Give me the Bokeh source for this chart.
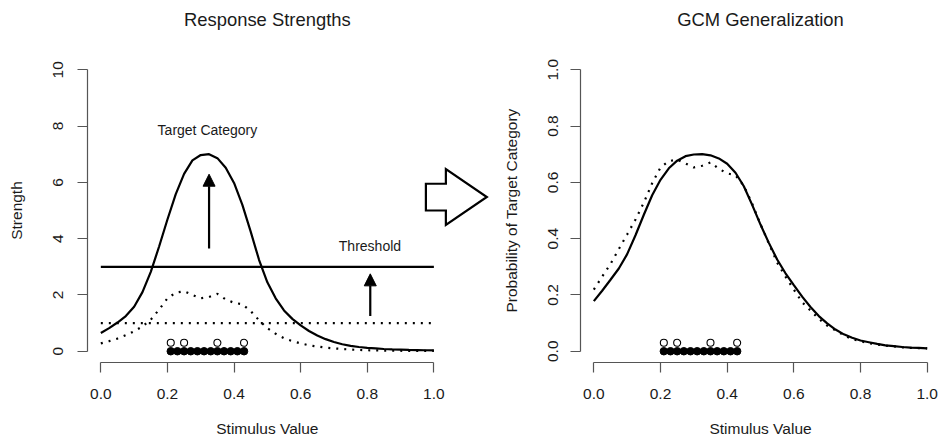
import math
from bokeh.plotting import figure
from bokeh.models import Range1d, FixedTicker, Arrow, NormalHead, PrintfTickFormatter
from bokeh.layouts import row, column
from bokeh.embed import file_html
from bokeh.resources import INLINE
from bokeh.core.properties import value

FONT = "Liberation Sans"

# ---------------- data ----------------
stimulus = [0.000, 0.025, 0.050, 0.075, 0.100, 0.125, 0.150, 0.175, 0.200, 0.225,
            0.250, 0.275, 0.300, 0.325, 0.350, 0.375, 0.400, 0.425, 0.450, 0.475,
            0.500, 0.525, 0.550, 0.575, 0.600, 0.625, 0.650, 0.675, 0.700, 0.725,
            0.750, 0.775, 0.800, 0.825, 0.850, 0.875, 0.900, 0.925, 0.950, 0.975, 1.000]

# left panel: response strengths
target_strength = [0.65, 0.82, 1.02, 1.25, 1.58, 2.10, 2.82, 3.72, 4.68, 5.58,
                   6.30, 6.78, 6.97, 7.00, 6.86, 6.52, 5.98, 5.20, 4.25, 3.25,
                   2.45, 1.88, 1.45, 1.15, 0.92, 0.72, 0.56, 0.43, 0.33, 0.25,
                   0.19, 0.15, 0.12, 0.10, 0.08, 0.065, 0.055, 0.045, 0.04, 0.035, 0.03]
other_strength = [0.28, 0.36, 0.45, 0.57, 0.71, 0.88, 1.12, 1.48, 1.88, 2.08,
                  2.13, 2.00, 1.88, 1.93, 2.04, 1.84, 1.72, 1.67, 1.43, 1.10,
                  0.82, 0.62, 0.46, 0.36, 0.28, 0.21, 0.17, 0.13, 0.10, 0.08,
                  0.06, 0.045, 0.036, 0.03, 0.025, 0.02, 0.017, 0.014, 0.012, 0.011, 0.01]
threshold_high = 3.0
threshold_low = 1.0

# right panel: GCM generalization (probability of target category)
target_prob = [0.178, 0.215, 0.254, 0.294, 0.345, 0.412, 0.485, 0.554, 0.609, 0.650,
               0.677, 0.693, 0.699, 0.700, 0.696, 0.685, 0.666, 0.634, 0.586, 0.520,
               0.450, 0.385, 0.326, 0.277, 0.235, 0.194, 0.157, 0.125, 0.099, 0.077,
               0.060, 0.048, 0.038, 0.032, 0.026, 0.021, 0.018, 0.015, 0.013, 0.012, 0.010]
other_prob = [0.219, 0.265, 0.310, 0.363, 0.415, 0.468, 0.528, 0.597, 0.653, 0.675,
              0.681, 0.667, 0.653, 0.659, 0.671, 0.648, 0.632, 0.625, 0.588, 0.524,
              0.451, 0.383, 0.315, 0.265, 0.219, 0.174, 0.145, 0.115, 0.091, 0.074,
              0.057, 0.043, 0.035, 0.029, 0.024, 0.020, 0.017, 0.014, 0.012, 0.011, 0.010]

# training exemplars (filled) and probe items (open)
exemplars = [0.21, 0.23, 0.25, 0.27, 0.29, 0.31, 0.33, 0.35, 0.37, 0.39, 0.41, 0.43]
probes = [0.21, 0.25, 0.35, 0.43]

x_ticks = [0.0, 0.2, 0.4, 0.6, 0.8, 1.0]
y_ticks_left = [0, 2, 4, 6, 8, 10]
y_ticks_right = [0.0, 0.2, 0.4, 0.6, 0.8, 1.0]

titles = ["Response Strengths", "GCM Generalization"]
x_label = "Stimulus Value"
y_labels = ["Strength", "Probability of Target Category"]

# annotation positions (data units of the left panel)
target_label = (0.32, 7.85)
threshold_label = (0.808, 3.74)
target_arrow = (0.325, 3.65, 6.29)
threshold_arrow = (0.809, 1.25, 2.75)
big_arrow_x = [0.976, 1.036, 1.036, 1.159, 1.036, 1.036, 0.976]
big_arrow_y = [5.95, 5.95, 6.47, 5.48, 4.49, 5.00, 5.00]

AXIS_COLOR = "#555555"
TEXT_COLOR = "#1a1a1a"
LW = 2.2
DOT = "2 6"

# layout geometry (pixels)
TOP_H, MID_H, BOT_H = 40, 367, 30
FRAME_TOP, FRAME_H = 18, 304
W1, W2 = 495, 445
B1, B2 = 87, 85
XR1 = (-0.04, -0.04 + (W1 - B1) / 333.06)
XR2 = (-0.04, 1.04)


def style(p, yt, y_fmt, y_std, ylab):
    p.xgrid.visible = False
    p.ygrid.visible = False
    p.outline_line_color = None
    for ax in (p.xaxis[0], p.yaxis[0]):
        ax.axis_line_color = AXIS_COLOR
        ax.axis_line_width = 1.2
        ax.major_tick_line_color = AXIS_COLOR
        ax.major_tick_line_width = 1.2
        ax.major_tick_out = 10
        ax.major_tick_in = 0
        ax.minor_tick_out = 0
        ax.minor_tick_in = 0
        ax.major_label_text_font = FONT
        ax.major_label_text_font_size = "15.5px"
        ax.major_label_text_color = TEXT_COLOR
    p.xaxis.bounds = (x_ticks[0], x_ticks[-1])
    p.yaxis.bounds = (yt[0], yt[-1])
    p.xaxis.ticker = FixedTicker(ticks=x_ticks)
    p.yaxis.ticker = FixedTicker(ticks=yt)
    p.xaxis.formatter = PrintfTickFormatter(format="%.1f")
    if y_fmt:
        p.yaxis.formatter = PrintfTickFormatter(format=y_fmt)
    p.xaxis.major_label_standoff = 16
    p.yaxis.major_label_orientation = "parallel"
    p.yaxis.major_label_standoff = y_std
    p.yaxis.axis_label = ylab
    p.yaxis.axis_label_text_font = FONT
    p.yaxis.axis_label_text_font_size = "15.5px"
    p.yaxis.axis_label_text_font_style = "normal"
    p.yaxis.axis_label_text_color = TEXT_COLOR
    p.yaxis.axis_label_standoff = 26


def text_strip(width, height, border, xr, label, center_from_top, size):
    unit = (width - border) / (xr[1] - xr[0])
    f = figure(width=width, height=height,
               x_range=Range1d(xr[0] - border / unit, xr[1]), y_range=Range1d(0, height),
               x_axis_type=None, y_axis_type=None, output_backend="svg",
               toolbar_location=None, min_border=0)
    f.outline_line_color = None
    f.xgrid.visible = False
    f.ygrid.visible = False
    f.text(x=[0.5], y=[height - center_from_top], text=[label], text_font=value(FONT),
           text_font_size=size, text_align="center", text_baseline="middle",
           text_color=TEXT_COLOR)
    return f


# ---------------- left panel ----------------
p1 = figure(width=W1, height=MID_H, x_range=Range1d(*XR1), y_range=Range1d(-0.4, 10.4),
            output_backend="svg", toolbar_location=None,
            min_border_left=B1, min_border_right=0, min_border_top=FRAME_TOP,
            min_border_bottom=MID_H - FRAME_TOP - FRAME_H)
style(p1, y_ticks_left, None, 14, y_labels[0])

p1.line(stimulus, target_strength, line_color="black", line_width=LW)
p1.line(stimulus, other_strength, line_color="black", line_width=LW, line_dash=DOT)
p1.segment(x0=[x_ticks[0]], y0=[threshold_high], x1=[x_ticks[-1]], y1=[threshold_high],
           line_color="black", line_width=LW)
p1.segment(x0=[x_ticks[0]], y0=[threshold_low], x1=[x_ticks[-1]], y1=[threshold_low],
           line_color="black", line_width=LW, line_dash=DOT)

p1.scatter(probes, [0.3] * len(probes), marker="circle", size=7, fill_color=None,
           line_color="black", line_width=1.1)
p1.scatter(exemplars, [0.0] * len(exemplars), marker="circle", size=7.5,
           fill_color="black", line_color="black")

for (ax_x, y0, y1) in (target_arrow, threshold_arrow):
    p1.add_layout(Arrow(end=NormalHead(size=12, fill_color="black", line_color="black", line_width=1),
                        x_start=ax_x, y_start=y0, x_end=ax_x, y_end=y1,
                        line_color="black", line_width=LW))

p1.text(x=[target_label[0]], y=[target_label[1]], text=["Target Category"],
        text_font=value(FONT), text_font_size="14px", text_align="center",
        text_baseline="middle", text_color=TEXT_COLOR)
p1.text(x=[threshold_label[0]], y=[threshold_label[1]], text=["Threshold"],
        text_font=value(FONT), text_font_size="14px", text_align="center",
        text_baseline="middle", text_color=TEXT_COLOR)

p1.patch(big_arrow_x, big_arrow_y, fill_color="white", line_color="black", line_width=LW,
         line_join="miter")

# ---------------- right panel ----------------
p2 = figure(width=W2, height=MID_H, x_range=Range1d(*XR2), y_range=Range1d(-0.04, 1.04),
            output_backend="svg", toolbar_location=None,
            min_border_left=B2, min_border_right=0, min_border_top=FRAME_TOP,
            min_border_bottom=MID_H - FRAME_TOP - FRAME_H)
style(p2, y_ticks_right, "%.1f", 12, y_labels[1])

p2.line(stimulus, target_prob, line_color="black", line_width=LW)
p2.line(stimulus, other_prob, line_color="black", line_width=LW, line_dash=DOT)
p2.scatter(probes, [0.03] * len(probes), marker="circle", size=7, fill_color=None,
           line_color="black", line_width=1.1)
p2.scatter(exemplars, [0.0] * len(exemplars), marker="circle", size=7.5,
           fill_color="black", line_color="black")

# ---------------- title and x-label strips ----------------
t1 = text_strip(W1, TOP_H, B1, XR1, titles[0], 19, "18.4px")
t2 = text_strip(W2, TOP_H, B2, XR2, titles[1], 19, "18.4px")
b1 = text_strip(W1, BOT_H, B1, XR1, x_label, 428 - (TOP_H + MID_H), "15.5px")
b2 = text_strip(W2, BOT_H, B2, XR2, x_label, 428 - (TOP_H + MID_H), "15.5px")

layout = column(row(t1, t2), row(p1, p2), row(b1, b2))
open("out.html", "w").write(file_html(layout, INLINE))
